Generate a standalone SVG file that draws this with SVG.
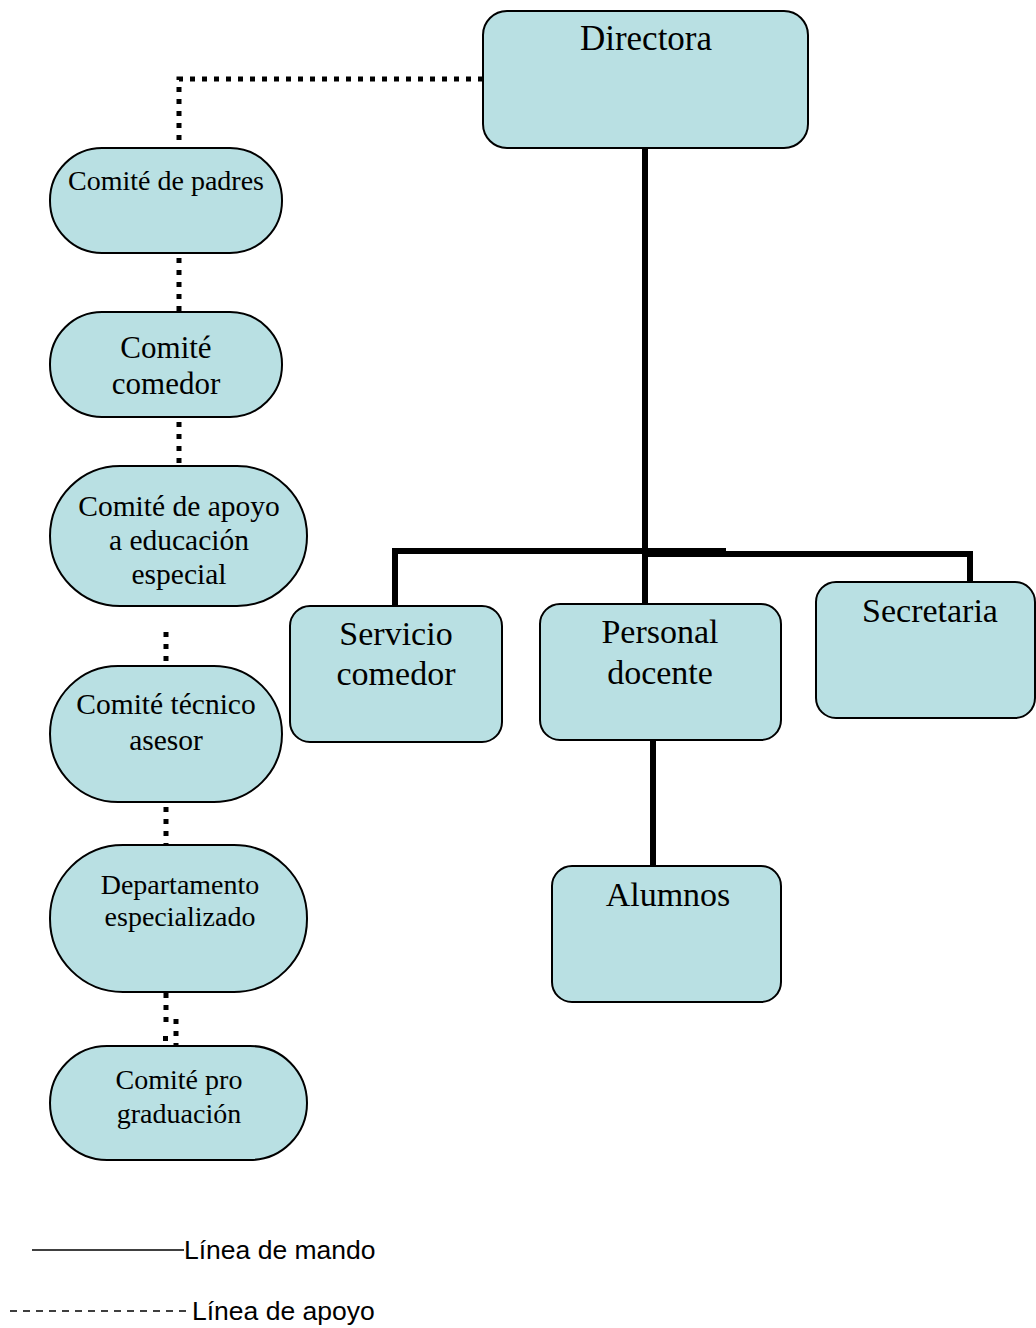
<svg xmlns="http://www.w3.org/2000/svg" width="1036" height="1328" viewBox="0 0 1036 1328">
<style>
.box{fill:#b9e0e3;stroke:#000;stroke-width:2}
.t{font-family:"Liberation Serif","Times New Roman",serif;fill:#000;text-anchor:middle}
.dot{fill:none;stroke:#000;stroke-width:5;stroke-dasharray:5 7}
.solid{fill:none;stroke:#000;stroke-width:6}
.leg{font-family:"Liberation Sans",Arial,sans-serif;font-size:26.5px;fill:#000}
</style>
<rect width="1036" height="1328" fill="#fff"/>
<g id="connectors">
<path class="dot" d="M483 79 H179 V148"/>
<path class="dot" d="M179 258 V312"/>
<path class="dot" d="M179 422 V466"/>
<path class="dot" d="M166 632 V666"/>
<path class="dot" d="M166 807 V845"/>
<path class="dot" d="M166 993 V1022"/>
<path class="dot" d="M176 1019 V1046"/>
<rect x="163" y="1036" width="5" height="5" fill="#000"/>
<path class="solid" d="M645 148 V604"/>
<path class="solid" d="M395 606 V551 H726"/>
<path class="solid" d="M645 554 H970 V582"/>
<path class="solid" d="M653 740 V866"/>
</g>
<g id="directora"><rect class="box" x="483" y="11" width="325" height="137" rx="24"/><text class="t" x="646" y="50" font-size="35">Directora</text></g>
<g id="comite-padres"><rect class="box" x="50" y="148" width="232" height="105" rx="52"/><text class="t" x="166" y="190" font-size="28">Comité de padres</text></g>
<g id="comite-comedor"><rect class="box" x="50" y="312" width="232" height="105" rx="52"/><text class="t" x="166" y="358" font-size="31">Comité</text><text class="t" x="166" y="394" font-size="31">comedor</text></g>
<g id="comite-apoyo"><rect class="box" x="50" y="466" width="257" height="140" rx="70"/><text class="t" x="179" y="516" font-size="29.5">Comité de apoyo</text><text class="t" x="179" y="550" font-size="29.5">a educación</text><text class="t" x="179" y="584" font-size="29.5">especial</text></g>
<g id="comite-tecnico"><rect class="box" x="50" y="666" width="232" height="136" rx="68"/><text class="t" x="166" y="714" font-size="29.5">Comité técnico</text><text class="t" x="166" y="750" font-size="29.5">asesor</text></g>
<g id="departamento"><rect class="box" x="50" y="845" width="257" height="147" rx="73"/><text class="t" x="180" y="894" font-size="28">Departamento</text><text class="t" x="180" y="926" font-size="28">especializado</text></g>
<g id="comite-graduacion"><rect class="box" x="50" y="1046" width="257" height="114" rx="57"/><text class="t" x="179" y="1089" font-size="28">Comité pro</text><text class="t" x="179" y="1123" font-size="28">graduación</text></g>
<g id="servicio-comedor"><rect class="box" x="290" y="606" width="212" height="136" rx="20"/><text class="t" x="396" y="645" font-size="34">Servicio</text><text class="t" x="396" y="685" font-size="34">comedor</text></g>
<g id="personal-docente"><rect class="box" x="540" y="604" width="241" height="136" rx="20"/><text class="t" x="660" y="643" font-size="34">Personal</text><text class="t" x="660" y="684" font-size="34">docente</text></g>
<g id="secretaria"><rect class="box" x="816" y="582" width="219" height="136" rx="20"/><text class="t" x="930" y="622" font-size="34">Secretaria</text></g>
<g id="alumnos"><rect class="box" x="552" y="866" width="229" height="136" rx="20"/><text class="t" x="668" y="906" font-size="34">Alumnos</text></g>
<g id="legend">
<line x1="32" y1="1250" x2="184" y2="1250" stroke="#000" stroke-width="1.5"/>
<text class="leg" x="184" y="1259">Línea de mando</text>
<line x1="10" y1="1311" x2="186" y2="1311" stroke="#000" stroke-width="1.5" stroke-dasharray="7 6"/>
<text class="leg" x="192" y="1320">Línea de apoyo</text>
</g>
</svg>
